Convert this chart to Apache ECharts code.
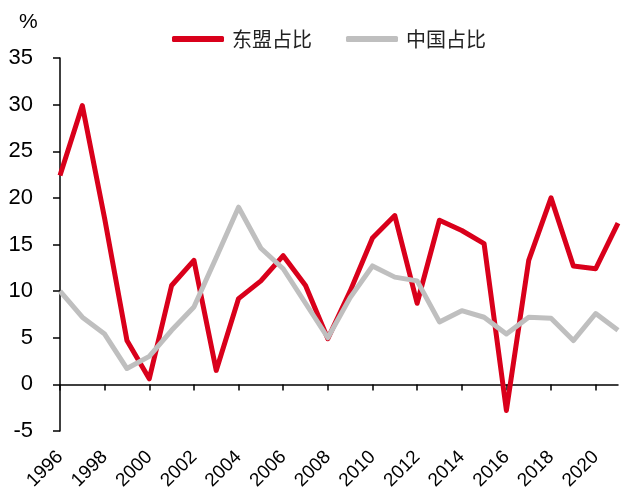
<!DOCTYPE html>
<html>
<head>
<meta charset="utf-8">
<script src="https://cdn.jsdelivr.net/npm/echarts@6/dist/echarts.min.js"></script>
<style>html,body{margin:0;padding:0;background:#fff;}#c{width:640px;height:503px;}</style>
</head>
<body>
<div id="c"></div>
<script>
const years = ['1996','1997','1998','1999','2000','2001','2002','2003','2004','2005','2006','2007','2008','2009','2010','2011','2012','2013','2014','2015','2016','2017','2018','2019','2020','2021'];
const aseanShare = [22.4,29.9,17.8,4.7,0.6,10.6,13.3,1.5,9.2,11.1,13.8,10.6,4.9,10.0,15.7,18.1,8.7,17.6,16.5,15.1,-2.8,13.3,20.0,12.7,12.4,17.3];
const chinaShare = [10.0,7.2,5.4,1.7,3.0,5.8,8.3,13.6,19.0,14.6,12.4,8.7,5.0,9.3,12.7,11.5,11.1,6.7,7.9,7.2,5.4,7.2,7.1,4.7,7.6,5.8];
const yTicks = {min:-5, max:35, interval:5};
const seriesNames = ['东盟占比','中国占比'];

const chart = echarts.init(document.getElementById('c'), null, {renderer:'canvas'});
chart.setOption({
  animation:false,
  backgroundColor:'#fff',
  title:{text:'%', left:14, top:7, textStyle:{fontFamily:'Liberation Sans, Arial', fontSize:21, fontWeight:'normal', color:'#000'}},
  legend:{
    data:seriesNames, left:167, top:24, itemWidth:52, itemHeight:6, itemGap:34, icon:'roundRect',
    textStyle:{fontFamily:'Noto Sans CJK SC', fontSize:20, color:'#222', padding:[0,0,0,3]}
  },
  grid:{left:60, right:22, top:58, bottom:72, containLabel:false},
  xAxis:[{
    type:'category', data:years, boundaryGap:false,
    axisLine:{onZero:true, lineStyle:{color:'#000', width:1.5}},
    axisTick:{show:true, interval:1, length:6, inside:false, lineStyle:{color:'#000', width:1.5}},
    axisLabel:{show:false}, splitLine:{show:false}
  },{
    type:'category', data:years, boundaryGap:false, position:'bottom',
    axisLine:{show:false}, axisTick:{show:false},
    axisLabel:{show:true, interval:1, rotate:45, margin:23, fontFamily:'Liberation Sans, Arial', fontSize:19, color:'#000'},
    splitLine:{show:false}
  }],
  yAxis:{
    type:'value', min:yTicks.min, max:yTicks.max, interval:yTicks.interval,
    axisLine:{show:true, lineStyle:{color:'#000', width:1.5}},
    axisTick:{show:true, length:7, lineStyle:{color:'#000', width:1.5}},
    axisLabel:{margin:27, fontFamily:'Liberation Sans, Arial', fontSize:22, color:'#000'},
    splitLine:{show:false}
  },
  series:[
    {name:seriesNames[0], type:'line', data:aseanShare, symbol:'none', itemStyle:{color:'#D9001B'}, lineStyle:{color:'#D9001B', width:5, join:'round'}},
    {name:seriesNames[1], type:'line', data:chinaShare, symbol:'none', itemStyle:{color:'#BFBFBF'}, lineStyle:{color:'#BFBFBF', width:5, join:'round'}}
  ]
});
</script>
</body>
</html>
